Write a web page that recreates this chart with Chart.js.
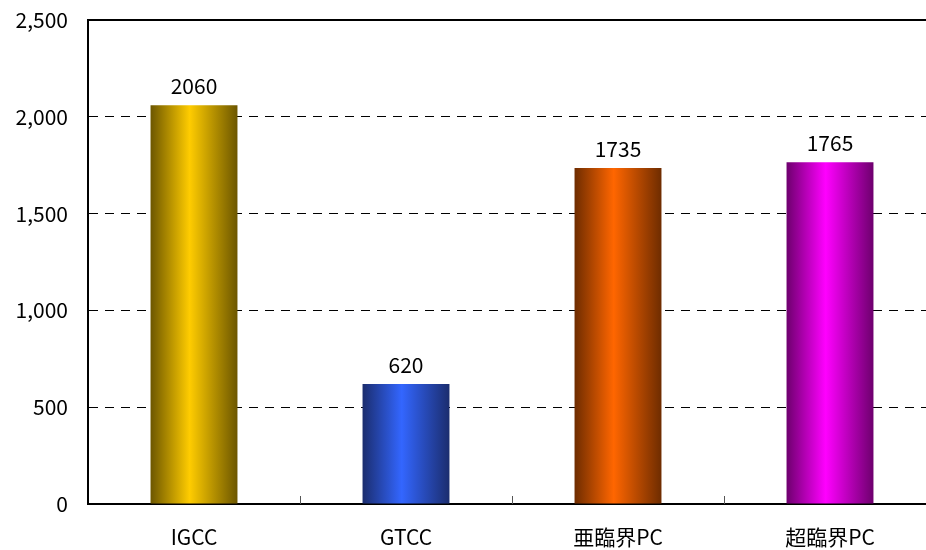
<!DOCTYPE html>
<html>
<head>
<meta charset="utf-8">
<script src="https://cdn.jsdelivr.net/npm/chart.js@4.4.1/dist/chart.umd.min.js"></script>
<style>
  html, body { margin: 0; padding: 0; overflow: hidden; background: #fff; }
</style>
</head>
<body>
<canvas id="chart" width="936" height="550"></canvas>
<script>
var labels = ['IGCC', 'GTCC', '亜臨界PC', '超臨界PC'];
var values = [2060, 620, 1735, 1765];
var yMax = 2500;
var yStep = 500;
var darkColors = ['#6c5600', '#1b2d6e', '#6e2c00', '#6e006e'];
var lightColors = ['#ffcc00', '#3366ff', '#ff6600', '#ff00ff'];

var FONT = '"Noto Sans CJK JP", "Noto Sans", sans-serif';
var FONT_SIZE = 21;
var barPct = 0.41;

// cylinder-like shading: dark edges, bright middle
function barFill(c) {
  var chart = c.chart;
  var i = c.dataIndex;
  if (!chart.chartArea) return lightColors[i];
  var xs = chart.scales.x;
  var cx = xs.getPixelForValue(i);
  var half = xs.width / labels.length * barPct / 2;
  var g = chart.ctx.createLinearGradient(cx - half, 0, cx + half, 0);
  g.addColorStop(0, darkColors[i]);
  g.addColorStop(0.45, lightColors[i]);
  g.addColorStop(1, darkColors[i]);
  return g;
}

var extras = {
  id: 'extras',
  afterDatasetsDraw: function (chart) {
    var ctx = chart.ctx;
    var area = chart.chartArea;
    var xs = chart.scales.x;
    var step = xs.width / labels.length;

    // short tick marks between categories, pointing up from the axis
    ctx.save();
    ctx.strokeStyle = '#555';
    ctx.lineWidth = 1;
    for (var k = 1; k < labels.length; k++) {
      var tx = Math.round(xs.getPixelForValue(k) - step / 2) + 0.5;
      ctx.beginPath();
      ctx.moveTo(tx, area.bottom - 8);
      ctx.lineTo(tx, area.bottom);
      ctx.stroke();
    }

    // value labels above each bar
    var meta = chart.getDatasetMeta(0);
    ctx.fillStyle = '#000';
    ctx.font = FONT_SIZE + 'px ' + FONT;
    ctx.textAlign = 'center';
    ctx.textBaseline = 'alphabetic';
    meta.data.forEach(function (bar, i) {
      ctx.fillText(String(values[i]), bar.x, bar.y - 11);
    });

    // top frame line
    ctx.strokeStyle = '#000';
    ctx.lineWidth = 2;
    ctx.beginPath();
    ctx.moveTo(area.left, area.top);
    ctx.lineTo(area.right, area.top);
    ctx.stroke();
    ctx.restore();
  }
};

new Chart(document.getElementById('chart'), {
  type: 'bar',
  data: {
    labels: labels,
    datasets: [{
      data: values,
      backgroundColor: barFill,
      borderWidth: 0,
      categoryPercentage: 1,
      barPercentage: barPct
    }]
  },
  options: {
    responsive: false,
    animation: false,
    layout: { padding: { top: 20, left: 0, right: 0, bottom: 0 } },
    plugins: {
      legend: { display: false },
      tooltip: { enabled: false }
    },
    scales: {
      x: {
        grid: { display: false },
        border: { display: true, color: '#000', width: 2 },
        ticks: {
          color: '#000',
          padding: 12,
          font: { family: FONT, size: FONT_SIZE },
          maxRotation: 0
        },
        afterFit: function (s) { s.height = 46; }
      },
      y: {
        min: 0,
        max: yMax,
        ticks: {
          stepSize: yStep,
          color: '#000',
          padding: 20,
          font: { family: FONT, size: FONT_SIZE },
          callback: function (v) { return v.toLocaleString('en-US'); }
        },
        grid: {
          drawTicks: false,
          lineWidth: 1,
          color: function (c) {
            var v = c.tick ? c.tick.value : 0;
            return (v === 0 || v === yMax) ? 'rgba(0,0,0,0)' : '#000';
          }
        },
        border: { display: true, color: '#000', width: 2, dash: [9, 7] },
        afterFit: function (s) {
          s.width = 88;
          s.paddingTop = 0;
          s.paddingBottom = 0;
        }
      }
    }
  },
  plugins: [extras]
});
</script>
</body>
</html>
